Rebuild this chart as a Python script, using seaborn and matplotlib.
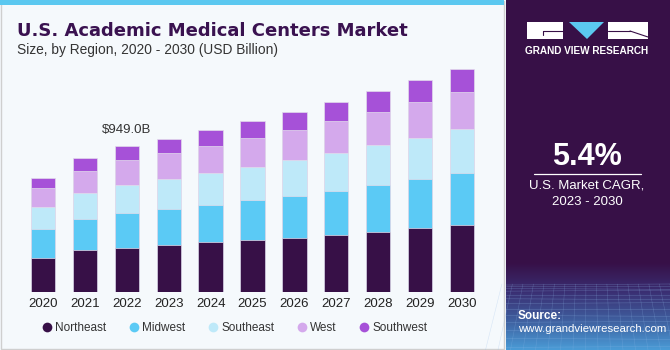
import numpy as np
import pandas as pd
import seaborn as sns
import matplotlib.pyplot as plt
from matplotlib.patches import Rectangle, Polygon
from matplotlib.lines import Line2D

YEARS = [str(y) for y in range(2020, 2031)]
REGIONS = ["Northeast", "Midwest", "Southeast", "West", "Southwest"]

# USD billion
NORTHEAST = [221, 273, 286, 306, 325, 338, 351, 371, 390, 416, 436]
MIDWEST = [189, 202, 228, 234, 241, 260, 273, 286, 306, 319, 338]
SOUTHEAST = [143, 169, 182, 195, 208, 215, 234, 247, 260, 267, 286]
WEST = [124, 143, 162, 169, 176, 189, 195, 208, 215, 234, 241]
SOUTHWEST = [65, 85, 91, 91, 104, 111, 117, 124, 137, 143, 150]

COLORS = ["#371047", "#5BCAF5", "#BEE9F9", "#D4A9EC", "#A651D8"]
LABEL_YEAR = "2022"
LABEL_TEXT = "$949.0B"

W, H = 670, 350
BG = "#F5F9FC"
DARK = "#371047"

df = pd.DataFrame(
    {"Year": YEARS, "Northeast": NORTHEAST, "Midwest": MIDWEST,
     "Southeast": SOUTHEAST, "West": WEST, "Southwest": SOUTHWEST}
)
# cumulative stack heights, drawn from the tallest down
cum = df[REGIONS].cumsum(axis=1)
cum["Year"] = df["Year"]

sns.set_theme(style="white")
plt.rcParams["font.family"] = ["Liberation Sans", "DejaVu Sans"]

fig = plt.figure(figsize=(W / 100, H / 100), dpi=100)
fig.patch.set_facecolor(BG)

# decoration layer in pixel coordinates
deco = fig.add_axes([0, 0, 1, 1], zorder=0)
deco.set_xlim(0, W)
deco.set_ylim(H, 0)
deco.axis("off")

deco.add_patch(Rectangle((0.5, 0.5), 503, 348, facecolor=BG, edgecolor="#CFCFCF", lw=1))
deco.add_patch(Rectangle((0, 0), 504, 5, facecolor="#5BC8F0", edgecolor="none"))
deco.add_patch(Rectangle((506, 0), W - 506, H, facecolor=DARK, edgecolor="none"))

# bottom gradient of the side panel
grad = np.linspace(0, 1, 100)[:, None]
cmap = plt.matplotlib.colors.LinearSegmentedColormap.from_list(
    "g", [DARK, "#3A2E72", "#3F5F9F", "#4A9BD6"])
deco.imshow(grad, extent=(506, W, H, 262), cmap=cmap, aspect="auto", zorder=1)
for k in range(13):
    yy = 285 + k * (1 + k * 0.35)
    deco.plot([506, W], [yy, yy + (k % 3 - 1)], color="#8FB8E8", lw=0.4, alpha=0.35, zorder=2)
for k in range(18):
    xx = 506 + k * 10
    deco.plot([xx + (xx - 588) * 0.05, xx + (xx - 588) * 0.25], [284, H], color="#8FB8E8",
              lw=0.4, alpha=0.3, zorder=2)

# logo
deco.add_patch(Rectangle((527, 22), 36, 17, facecolor="white", edgecolor="none", zorder=3))
deco.add_patch(Rectangle((608, 22), 40, 17, facecolor="white", edgecolor="none", zorder=3))
deco.add_patch(Polygon([(569, 22), (604, 22), (587, 39)], closed=True,
                       facecolor="#5BC8F0", edgecolor="none", zorder=3))
deco.plot([543, 563], [31, 31], color=DARK, lw=0.8, zorder=4)
deco.plot([543, 543], [31, 35], color=DARK, lw=0.8, zorder=4)
deco.plot([608, 630], [31, 31], color=DARK, lw=0.8, zorder=4)
deco.plot([630, 648], [31, 37], color=DARK, lw=0.8, zorder=4)
deco.text(587, 51, "GRAND VIEW RESEARCH", color="white", fontsize=7.2, fontweight="bold",
          ha="center", va="center", zorder=4)

deco.text(587, 157, "5.4%", color="white", fontsize=22, fontweight="bold",
          ha="center", va="center", zorder=4)
deco.plot([534, 641], [173.5, 173.5], color="white", lw=0.9, zorder=4)
deco.text(587, 186, "U.S. Market CAGR,", color="white", fontsize=9.5,
          ha="center", va="center", zorder=4)
deco.text(587, 202, "2023 - 2030", color="white", fontsize=9.5,
          ha="center", va="center", zorder=4)
deco.text(518, 316, "Source:", color="white", fontsize=8.5, fontweight="bold",
          ha="left", va="center", zorder=4)
deco.text(518, 329, "www.grandviewresearch.com", color="white", fontsize=8.2,
          ha="left", va="center", zorder=4)

deco.text(17, 36, "U.S. Academic Medical Centers Market", color="#3A1250", fontsize=13.0,
          fontweight="bold", family=["DejaVu Sans"], ha="left", va="baseline", zorder=4)
deco.text(17, 54, "Size, by Region, 2020 - 2030 (USD Billion)", color="#333333",
          fontsize=9.9, ha="left", va="baseline", zorder=4)

# chart axes
x0, x1 = 43 - 0.6 * 41.9, 462 + 0.6 * 41.9
ax = fig.add_axes([x0 / W, 1 - 292 / H, (x1 - x0) / W, 232 / H], zorder=1)
ax.patch.set_alpha(0)

for region, color in reversed(list(zip(REGIONS, COLORS))):
    sns.barplot(data=cum, x="Year", y=region, color=color, width=0.58,
                edgecolor="#E2DCEB", linewidth=0.5, saturation=1, ax=ax)

ax.set_xlim(-0.6, 10.6)
ax.set_ylim(0, 1508)
ax.set_xlabel("")
ax.set_ylabel("")
ax.set_yticks([])
ax.tick_params(axis="x", length=0, labelsize=9.5, labelcolor="#222222", pad=4)
for s in ax.spines.values():
    s.set_visible(False)

i = YEARS.index(LABEL_YEAR)
ax.annotate(LABEL_TEXT, (i, cum[REGIONS[-1]].iloc[i]), xytext=(0, 7),
            textcoords="offset points", ha="center", va="bottom",
            fontsize=9.5, color="#333333")

handles = [Line2D([], [], marker="o", ls="", markersize=7, markerfacecolor=c,
                  markeredgecolor="none") for c in COLORS]
fig.legend(handles, REGIONS, loc="center left", bbox_to_anchor=(42 / W, 1 - 328 / H),
           ncol=5, frameon=False, fontsize=8.5, handletextpad=0.3, handlelength=0.8,
           columnspacing=1.95, labelcolor="#333333", borderaxespad=0, borderpad=0)

fig.savefig("out.png", dpi=100, facecolor=fig.get_facecolor())
